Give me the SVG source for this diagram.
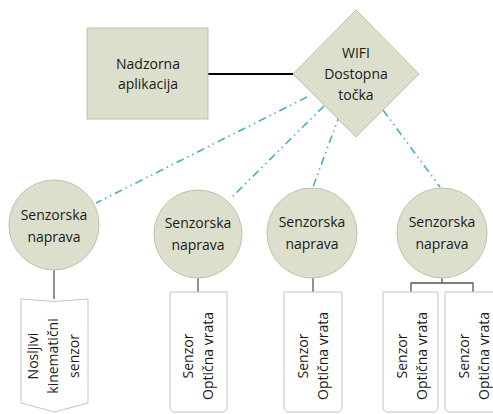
<svg xmlns="http://www.w3.org/2000/svg" width="493" height="414" viewBox="0 0 493 414">
<style>
.shape{fill:#dcdfcb;stroke:#bfc2ad;stroke-width:1}
.box{fill:#ffffff;stroke:#c4c4c4;stroke-width:1}
.t{font-family:"Open Sans","Liberation Sans",sans-serif;font-size:14px;fill:#1a1a1a;text-anchor:middle}
.dd{fill:none;stroke:#4bacc6;stroke-width:1.6;stroke-dasharray:8 4 1.5 4 1.5 4}
.tree{fill:none;stroke:#555555;stroke-width:1.3}
</style>
<rect width="493" height="414" fill="#ffffff"/>
<g id="connectors">
<line x1="208" y1="74" x2="293" y2="74" stroke="#000000" stroke-width="2.2"/>
<line class="dd" x1="307" y1="97" x2="96" y2="203"/>
<line class="dd" x1="324" y1="106" x2="230" y2="199"/>
<line class="dd" x1="340" y1="114" x2="313" y2="187"/>
<line class="dd" x1="383" y1="110" x2="440" y2="187"/>
<path class="tree" d="M54,270 V299"/>
<path class="tree" d="M198,278 V292"/>
<path class="tree" d="M313,277 V292"/>
<path class="tree" d="M442,277 V283 M411,292 V283 H473 V292"/>
</g>
<g id="nadzorna">
<rect class="shape" x="87" y="28" width="121" height="91"/>
<text class="t" x="148" y="69">Nadzorna</text>
<text class="t" x="148" y="89">aplikacija</text>
</g>
<g id="wifi">
<polygon class="shape" points="356,10 419,74 356,137 293,74"/>
<text class="t" x="356" y="58">WIFI</text>
<text class="t" x="356" y="79">Dostopna</text>
<text class="t" x="356" y="100">točka</text>
</g>
<g id="naprava1">
<circle class="shape" cx="54" cy="225" r="45"/>
<text class="t" x="54" y="220">Senzorska</text>
<text class="t" x="54" y="242">naprava</text>
</g>
<g id="naprava2">
<circle class="shape" cx="198" cy="234" r="44"/>
<text class="t" x="198" y="228">Senzorska</text>
<text class="t" x="198" y="250">naprava</text>
</g>
<g id="naprava3">
<circle class="shape" cx="312" cy="233" r="45"/>
<text class="t" x="312" y="227">Senzorska</text>
<text class="t" x="312" y="249">naprava</text>
</g>
<g id="naprava4">
<circle class="shape" cx="442" cy="233" r="45"/>
<text class="t" x="442" y="227">Senzorska</text>
<text class="t" x="442" y="249">naprava</text>
</g>
<g id="senzor1">
<path class="box" d="M21,299 L54.5,301.5 L88,299 V403 L54.5,412 L21,403 Z"/>
<text class="t" transform="translate(38,356) rotate(-90)">Nosljivi</text>
<text class="t" transform="translate(58,356) rotate(-90)">kinematični</text>
<text class="t" transform="translate(79,356) rotate(-90)">senzor</text>
</g>
<g id="senzor2">
<path class="box" d="M170,292 H227 V409 L224,412 H173 L170,409 Z"/>
<text class="t" transform="translate(193,356) rotate(-90)">Senzor</text>
<text class="t" transform="translate(213,356) rotate(-90)">Optična vrata</text>
</g>
<g id="senzor3">
<path class="box" d="M284,292 H342 V409 L339,412 H287 L284,409 Z"/>
<text class="t" transform="translate(308,356) rotate(-90)">Senzor</text>
<text class="t" transform="translate(328,356) rotate(-90)">Optična vrata</text>
</g>
<g id="senzor4">
<path class="box" d="M383,292 H438 V409 L435,412 H386 L383,409 Z"/>
<text class="t" transform="translate(407,356) rotate(-90)">Senzor</text>
<text class="t" transform="translate(427,356) rotate(-90)">Optična vrata</text>
</g>
<g id="senzor5">
<path class="box" d="M445,292 H503 V409 L500,412 H448 L445,409 Z"/>
<text class="t" transform="translate(469,356) rotate(-90)">Senzor</text>
<text class="t" transform="translate(489,356) rotate(-90)">Optična vrata</text>
</g>
</svg>
